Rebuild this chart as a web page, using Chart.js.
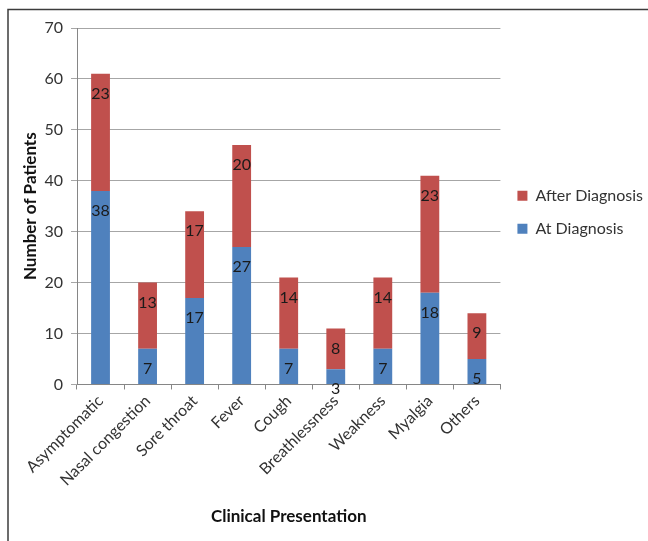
<!DOCTYPE html>
<html lang="en">
<head>
  <meta charset="UTF-8">
  <title>Clinical Presentation</title>
  <script src="https://cdn.jsdelivr.net/npm/chart.js"></script>
  <style>
    html, body { margin: 0; padding: 0; background: #fff; }
    #wrap { width: 648px; height: 541px; position: relative; }
  </style>
</head>
<body>
  <div id="wrap"><canvas id="chart" width="648" height="541"></canvas></div>

  <script>
    // data
    const categories = ['Asymptomatic', 'Nasal congestion', 'Sore throat', 'Fever', 'Cough',
      'Breathlessness', 'Weakness', 'Myalgia', 'Others'];
    const atDiagnosis = [38, 7, 17, 27, 7, 3, 7, 18, 5];
    const afterDiagnosis = [23, 13, 17, 20, 14, 8, 14, 23, 9];
    const yMin = 0, yMax = 70, yStep = 10;

    const FONT = 'Lato, "Liberation Sans", sans-serif';

    // outer frame + white background
    const framePlugin = {
      id: 'frame',
      beforeDraw(chart) {
        const ctx = chart.ctx;
        ctx.save();
        ctx.fillStyle = '#fff';
        ctx.fillRect(0, 0, chart.width, chart.height);
        ctx.strokeStyle = '#3c3c3c';
        ctx.lineWidth = 1.5;
        ctx.strokeRect(8, 9.5, 700, 600);
        ctx.restore();
      }
    };

    // value labels just under the top of each segment
    const valueLabels = {
      id: 'valueLabels',
      afterDatasetsDraw(chart) {
        const ctx = chart.ctx;
        ctx.save();
        ctx.font = '16px ' + FONT;
        ctx.fillStyle = '#1a1a1a';
        ctx.textAlign = 'center';
        ctx.textBaseline = 'middle';
        chart.data.datasets.forEach((ds, i) => {
          chart.getDatasetMeta(i).data.forEach((bar, j) => {
            ctx.fillText(ds.data[j], bar.x, bar.y + 20);
          });
        });
        ctx.restore();
      }
    };

    new Chart(document.getElementById('chart'), {
      type: 'bar',
      data: {
        labels: categories,
        datasets: [
          {
            label: 'At Diagnosis',
            data: atDiagnosis,
            backgroundColor: '#4f81bd',
            barPercentage: 0.4,
            categoryPercentage: 1
          },
          {
            label: 'After Diagnosis',
            data: afterDiagnosis,
            backgroundColor: '#c0504d',
            barPercentage: 0.4,
            categoryPercentage: 1
          }
        ]
      },
      options: {
        responsive: false,
        animation: false,
        layout: { padding: { left: 20, top: 28, right: -5, bottom: 14 } },
        plugins: {
          tooltip: { enabled: false },
          legend: {
            position: 'right',
            fullSize: false,
            reverse: true,
            // empty title only nudges the items down a little
            title: { display: true, text: ' ', padding: 0, font: { size: 10, lineHeight: 1.2 } },
            labels: {
              boxWidth: 10,
              boxHeight: 10,
              padding: 17,
              color: '#333',
              font: { family: FONT, size: 16 }
            }
          }
        },
        scales: {
          x: {
            stacked: true,
            grid: { drawOnChartArea: false, tickLength: 5, color: '#868686' },
            border: { color: '#868686' },
            ticks: {
              minRotation: 45,
              maxRotation: 45,
              padding: 2,
              color: '#333',
              font: { family: FONT, size: 16 }
            },
            title: {
              display: true,
              text: 'Clinical Presentation',
              color: '#111',
              padding: { top: 15, bottom: 0 },
              font: { family: FONT, size: 17, weight: 'bold' }
            }
          },
          y: {
            stacked: true,
            min: yMin,
            max: yMax,
            grid: { color: '#a6a6a6', tickLength: 6 },
            border: { color: '#868686' },
            ticks: {
              stepSize: yStep,
              padding: 8,
              color: '#333',
              font: { family: FONT, size: 16 }
            },
            title: {
              display: true,
              text: 'Number of Patients',
              color: '#111',
              padding: { top: 0, bottom: 4 },
              font: { family: FONT, size: 17, weight: 'bold' }
            },
            afterFit(scale) { scale.width = 57; }
          }
        }
      },
      plugins: [framePlugin, valueLabels]
    });
  </script>
</body>
</html>
